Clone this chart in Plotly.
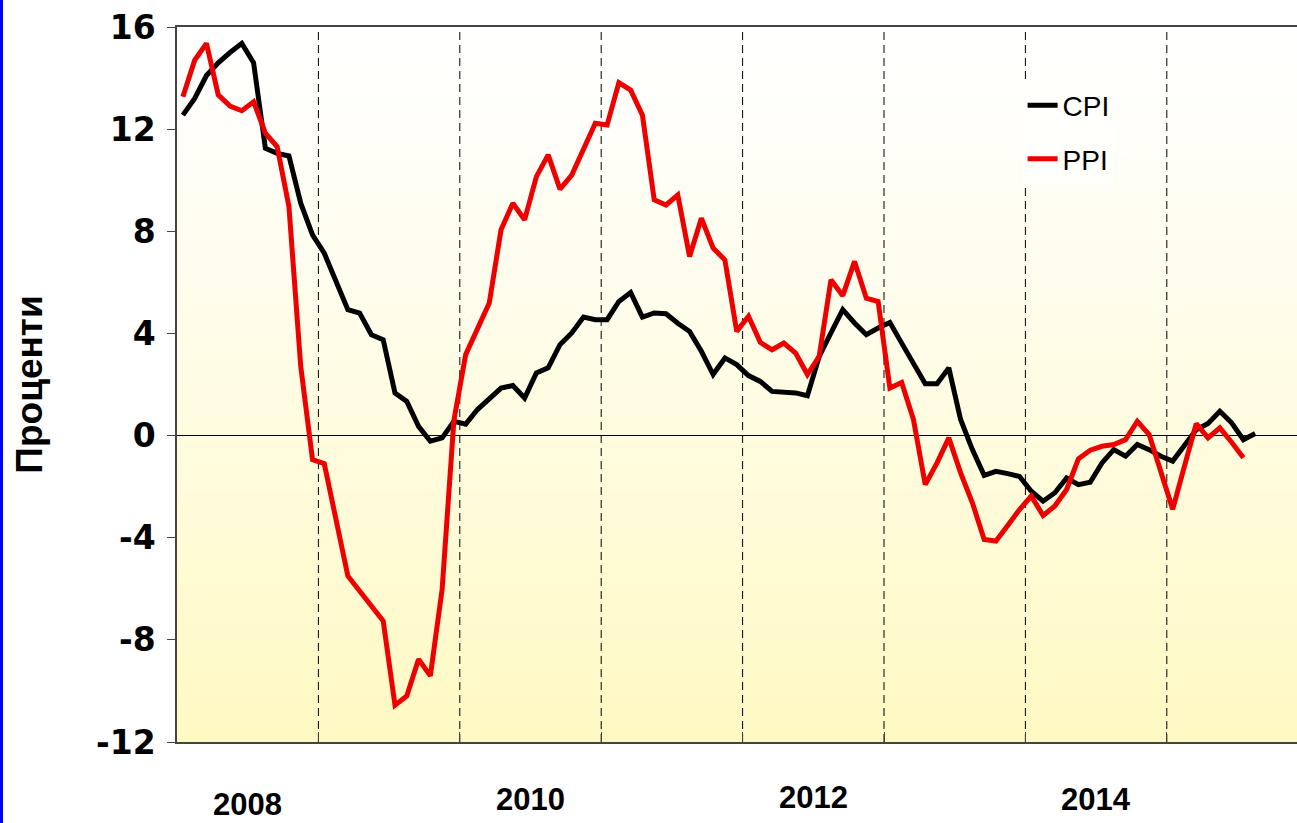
import plotly.graph_objects as go
import pandas as pd

# ---------------- data ----------------
months = pd.period_range("2008-01", "2015-08", freq="M")
cpi = [12.55, 13.2, 14.1, 14.6, 15.0, 15.36, 14.6, 11.25, 11.05, 10.95, 9.1, 7.86,
       7.14, 6.03, 4.93, 4.8, 3.95, 3.75, 1.67, 1.34, 0.36, -0.22, -0.09, 0.56,
       0.45, 1.02, 1.47, 1.86, 1.96, 1.47, 2.45, 2.65, 3.56, 4.02, 4.64, 4.54,
       4.54, 5.25, 5.6, 4.64, 4.8, 4.77, 4.4, 4.08, 3.3, 2.39, 3.04, 2.78,
       2.35, 2.12, 1.73, 1.71, 1.67, 1.56, 3.1, 4.02, 4.93, 4.41, 3.95, 4.21,
       4.43, 3.62, 2.84, 2.03, 2.03, 2.65, 0.63, -0.55, -1.56, -1.4, -1.49, -1.6,
       -2.18, -2.57, -2.24, -1.66, -1.92, -1.83, -1.07, -0.55, -0.81, -0.35, -0.55, -0.81,
       -1.0, -0.42, 0.23, 0.47, 0.95, 0.5, -0.16, 0.08]
ppi = [13.27, 14.7, 15.36, 13.34, 12.9, 12.72, 13.07, 11.84, 11.31, 8.97, 2.71, -0.94,
       -1.1, -3.35, -5.5, -6.09, -6.68, -7.26, -10.56, -10.2, -8.76, -9.41, -6.02, 0.6,
       3.17, 4.15, 5.19, 8.06, 9.1, 8.45, 10.14, 10.99, 9.65, 10.2, 11.18, 12.23,
       12.16, 13.82, 13.53, 12.55, 9.23, 9.03, 9.42, 7.01, 8.51, 7.34, 6.88, 4.08,
       4.67, 3.65, 3.36, 3.62, 3.23, 2.39, 3.1, 6.1, 5.48, 6.82, 5.38, 5.25,
       1.86, 2.08, 0.63, -1.92, -1.07, -0.09, -1.46, -2.63, -4.07, -4.13, -3.52, -2.9,
       -2.37, -3.13, -2.76, -2.11, -0.91, -0.57, -0.42, -0.35, -0.16, 0.56, 0.04, -1.46,
       -2.89, -1.2, 0.47, -0.09, 0.3, -0.26, -0.87]
year_labels = ["2008", "2010", "2012", "2014"]
year_boundaries = [2008, 2009, 2010, 2011, 2012, 2013, 2014, 2015]
y_ticks = [-12, -8, -4, 0, 4, 8, 12, 16]
y_tick_text = ["-12", "-8", "-4", "0", "4", "8", "12", "16"]

# month centres as decimal years
xpos = [p.year + (p.month - 0.5) / 12 for p in months]

fig = go.Figure()
fig.add_trace(go.Scatter(x=xpos[:len(cpi)], y=cpi, mode="lines", name="CPI",
                         line=dict(color="#000000", width=5), legendgroup="a"))
fig.add_trace(go.Scatter(x=xpos[:len(ppi)], y=ppi, mode="lines", name="PPI",
                         line=dict(color="#ee0000", width=5), legendgroup="b"))

shapes = []
# gradient background (white -> pale yellow)
nb = 60
for k in range(nb):
    t = (k + 0.5) / nb  # 0 at top, 1 at bottom
    w = t ** 1.15
    r = 255
    g = round(255 - 6 * w)
    b = round(255 - 60 * w)
    shapes.append(dict(type="rect", xref="paper", yref="paper", x0=0, x1=1,
                       y0=1 - (k + 1) / nb, y1=1 - k / nb + 0.001,
                       fillcolor=f"rgb({r},{g},{b})", line=dict(width=0), layer="below"))
# dashed year lines
for yb in year_boundaries[1:]:
    shapes.append(dict(type="line", xref="x", yref="paper", x0=yb, x1=yb, y0=0, y1=1,
                       line=dict(color="#000000", width=1, dash="8px,5px"), layer="below"))
# blue left border
shapes.append(dict(type="line", xref="paper", yref="paper", x0=-0.1567, x1=-0.1567,
                   y0=-0.12, y1=1.05, line=dict(color="#0000ff", width=3)))

annotations = []
label_y = [-0.088, -0.081, -0.077, -0.081]
for lab, yy in zip(year_labels, label_y):
    annotations.append(dict(x=int(lab) + 0.5, y=yy, xref="x", yref="paper",
                            text=lab, showarrow=False, xanchor="center", yanchor="middle",
                            font=dict(family="Liberation Sans, Arial",
                                      size=31, color="#000000", weight="bold")))
annotations.append(dict(x=-0.132, y=0.5, xref="paper", yref="paper", text="Проценти",
                        textangle=-90, showarrow=False, xanchor="center", yanchor="middle",
                        font=dict(family="Liberation Sans, Arial", size=37,
                                  color="#000000", weight="bold")))

fig.update_layout(
    width=1297, height=823,
    margin=dict(l=177, r=0, t=27, b=81),
    paper_bgcolor="#ffffff",
    plot_bgcolor="#ffffff",
    shapes=shapes,
    annotations=annotations,
    showlegend=True,
    legend=dict(x=0.755, y=0.925, xanchor="left", yanchor="top",
                bgcolor="#fffffb", borderwidth=0, tracegroupgap=14,
                font=dict(family="Liberation Sans, Arial", size=28, color="#000000"),
                itemwidth=30),
    xaxis=dict(range=[2008, 2008 + 1120 / 141.4], showgrid=False, zeroline=False,
               tickmode="array", tickvals=year_boundaries, ticks="inside", ticklen=10,
               tickcolor="#444444", showticklabels=False,
               showline=True, linecolor="#444444", linewidth=1.5, mirror=True),
    yaxis=dict(range=[-12, 16], showgrid=False, tickmode="array", tickvals=y_ticks,
               ticktext=y_tick_text,
               ticks="outside", ticklen=8, tickcolor="#444444",
               showline=True, linecolor="#444444", linewidth=1.5,
               zeroline=True, zerolinecolor="#000000", zerolinewidth=1,
               ticklabelstandoff=5,
               tickfont=dict(family="DejaVu Sans, Liberation Sans, Arial", size=33,
                             color="#000000", weight="bold")),
)

fig.write_html("out.html", config={"displayModeBar": False},
               post_script="document.body.style.margin='0';")
